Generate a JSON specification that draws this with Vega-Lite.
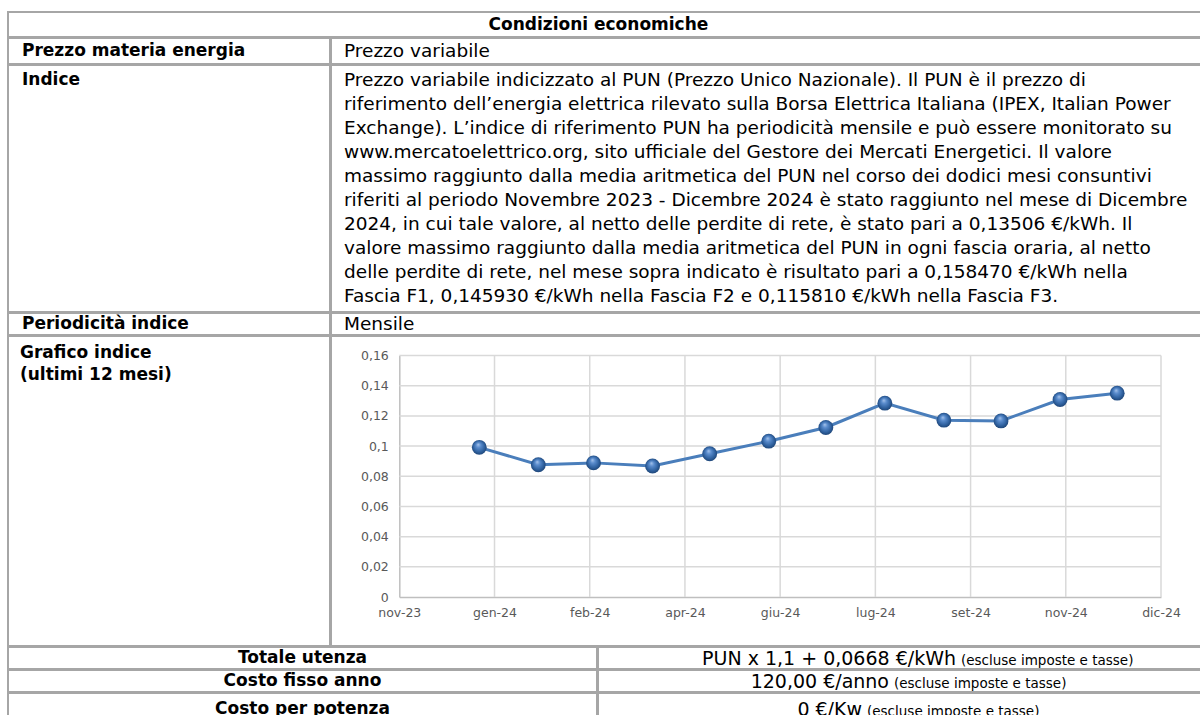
{
  "$schema": "https://vega.github.io/schema/vega-lite/v6.json",
  "background": "white",
  "padding": {"left": 7, "top": 11, "right": -39, "bottom": -6},
  "spacing": -2,
  "config": {
    "font": "DejaVu Sans",
    "view": {"stroke": "#a6a6a6", "strokeWidth": 2},
    "text": {"fontSize": 18.5, "color": "#000000", "baseline": "middle"},
    "axis": {
      "title": null, "grid": false, "ticks": false, "domain": true,
      "domainColor": "#bfbfbf", "domainWidth": 1.5,
      "labelColor": "#595959", "labelFontSize": 12.5,
      "labelFlush": false, "labelOverlap": false
    }
  },
  "vconcat": [
    {
      "width": 1230, "height": 25,
      "data": {"values": [{"testo": "Condizioni economiche"}]},
      "mark": {"type": "text", "fontWeight": "bold", "fontSize": 17},
      "encoding": {
        "text": {"field": "testo"},
        "x": {"datum": 0.48, "type": "quantitative", "scale": {"domain": [0, 1], "nice": false, "zero": false}, "axis": null}
      }
    },
    {
      "spacing": -2,
      "hconcat": [
        {
          "width": 322, "height": 26,
          "data": {"values": [{"testo": "Prezzo materia energia"}]},
          "mark": {"type": "text", "align": "left", "fontWeight": "bold", "fontSize": 17, "dx": 14},
          "encoding": {
            "text": {"field": "testo"},
            "x": {"datum": 0, "type": "quantitative", "scale": {"domain": [0, 1], "nice": false, "zero": false}, "axis": null}
          }
        },
        {
          "width": 908, "height": 26,
          "data": {"values": [{"testo": "Prezzo variabile"}]},
          "mark": {"type": "text", "align": "left", "dx": 13},
          "encoding": {
            "text": {"field": "testo"},
            "x": {"datum": 0, "type": "quantitative", "scale": {"domain": [0, 1], "nice": false, "zero": false}, "axis": null}
          }
        }
      ]
    },
    {
      "spacing": -2,
      "hconcat": [
        {
          "width": 322, "height": 247,
          "data": {"values": [{"riga": 1, "testo": "Indice"}]},
          "mark": {"type": "text", "align": "left", "fontWeight": "bold", "fontSize": 17, "dx": 14},
          "encoding": {
            "text": {"field": "testo"},
            "x": {"datum": 0, "type": "quantitative", "scale": {"domain": [0, 1], "nice": false, "zero": false}, "axis": null},
            "y": {"field": "riga", "type": "quantitative", "scale": {"domain": [0.375, 10.667], "reverse": true, "nice": false, "zero": false}, "axis": null}
          }
        },
        {
          "width": 908, "height": 247,
          "data": {"values": [
            {"riga": 1, "testo": "Prezzo variabile indicizzato al PUN (Prezzo Unico Nazionale). Il PUN è il prezzo di"},
            {"riga": 2, "testo": "riferimento dell’energia elettrica rilevato sulla Borsa Elettrica Italiana (IPEX, Italian Power"},
            {"riga": 3, "testo": "Exchange). L’indice di riferimento PUN ha periodicità mensile e può essere monitorato su"},
            {"riga": 4, "testo": "www.mercatoelettrico.org, sito ufficiale del Gestore dei Mercati Energetici. Il valore"},
            {"riga": 5, "testo": "massimo raggiunto dalla media aritmetica del PUN nel corso dei dodici mesi consuntivi"},
            {"riga": 6, "testo": "riferiti al periodo Novembre 2023 - Dicembre 2024 è stato raggiunto nel mese di Dicembre"},
            {"riga": 7, "testo": "2024, in cui tale valore, al netto delle perdite di rete, è stato pari a 0,13506 €/kWh. Il"},
            {"riga": 8, "testo": "valore massimo raggiunto dalla media aritmetica del PUN in ogni fascia oraria, al netto"},
            {"riga": 9, "testo": "delle perdite di rete, nel mese sopra indicato è risultato pari a 0,158470 €/kWh nella"},
            {"riga": 10, "testo": "Fascia F1, 0,145930 €/kWh nella Fascia F2 e 0,115810 €/kWh nella Fascia F3."}
          ]},
          "mark": {"type": "text", "align": "left", "dx": 13},
          "encoding": {
            "text": {"field": "testo"},
            "x": {"datum": 0, "type": "quantitative", "scale": {"domain": [0, 1], "nice": false, "zero": false}, "axis": null},
            "y": {"field": "riga", "type": "quantitative", "scale": {"domain": [0.375, 10.667], "reverse": true, "nice": false, "zero": false}, "axis": null}
          }
        }
      ]
    },
    {
      "spacing": -2,
      "hconcat": [
        {
          "width": 322, "height": 22,
          "data": {"values": [{"testo": "Periodicità indice"}]},
          "mark": {"type": "text", "align": "left", "fontWeight": "bold", "fontSize": 17, "dx": 14},
          "encoding": {
            "text": {"field": "testo"},
            "x": {"datum": 0, "type": "quantitative", "scale": {"domain": [0, 1], "nice": false, "zero": false}, "axis": null}
          }
        },
        {
          "width": 908, "height": 22,
          "data": {"values": [{"testo": "Mensile"}]},
          "mark": {"type": "text", "align": "left", "dx": 13},
          "encoding": {
            "text": {"field": "testo"},
            "x": {"datum": 0, "type": "quantitative", "scale": {"domain": [0, 1], "nice": false, "zero": false}, "axis": null}
          }
        }
      ]
    },
    {
      "spacing": -2,
      "hconcat": [
        {
          "width": 322, "height": 310,
          "data": {"values": [{"riga": 1, "testo": "Grafico indice"}, {"riga": 2, "testo": "(ultimi 12 mesi)"}]},
          "mark": {"type": "text", "align": "left", "fontWeight": "bold", "fontSize": 17, "dx": 12},
          "encoding": {
            "text": {"field": "testo"},
            "x": {"datum": 0, "type": "quantitative", "scale": {"domain": [0, 1], "nice": false, "zero": false}, "axis": null},
            "y": {"field": "riga", "type": "quantitative", "scale": {"domain": [0.2273, 14.318], "reverse": true, "nice": false, "zero": false}, "axis": null}
          }
        },
        {
          "width": 908, "height": 310,
          "data": {"values": [
            {"mese": "2024-01-01", "pun": 0.09916},
            {"mese": "2024-02-01", "pun": 0.08763},
            {"mese": "2024-03-01", "pun": 0.08886},
            {"mese": "2024-04-01", "pun": 0.08680},
            {"mese": "2024-05-01", "pun": 0.09488},
            {"mese": "2024-06-01", "pun": 0.10323},
            {"mese": "2024-07-01", "pun": 0.11232},
            {"mese": "2024-08-01", "pun": 0.12843},
            {"mese": "2024-09-01", "pun": 0.11713},
            {"mese": "2024-10-01", "pun": 0.11665},
            {"mese": "2024-11-01", "pun": 0.13085},
            {"mese": "2024-12-01", "pun": 0.13506}
          ]},
          "layer": [
            {
              "data": {"values": [{"v": 0.02}, {"v": 0.04}, {"v": 0.06}, {"v": 0.08}, {"v": 0.1}, {"v": 0.12}, {"v": 0.14}, {"v": 0.16}]},
              "mark": {"type": "rule", "color": "#d9d9d9", "strokeWidth": 1.5},
              "encoding": {
                "y": {
                  "field": "v", "type": "quantitative",
                  "scale": {"domain": [0, 0.16], "range": [261, 19.5], "nice": false, "zero": false},
                  "axis": {"orient": "left", "offset": -68.3, "labelPadding": 11, "labelOverlap": false, "tickCount": 40, "values": [0, 0.02, 0.04, 0.06, 0.08, 0.1, 0.12, 0.14, 0.16], "labelExpr": "replace(format(datum.value, '.2~f'), '.', ',')"}
                },
                "x": {
                  "datum": {"year": 2023, "month": 11, "date": 20, "utc": true}, "type": "temporal",
                  "scale": {"type": "utc", "domain": [{"year": 2023, "month": 11, "date": 20, "utc": true}, {"year": 2024, "month": 12, "date": 24, "utc": true}], "range": [68.3, 830]},
                  "axis": {
                    "orient": "bottom", "offset": -49, "labelPadding": 9, "labelOverlap": false, "tickCount": 40,
                    "values": [
                      {"year": 2023, "month": 11, "date": 20, "utc": true},
                      {"year": 2024, "month": 1, "date": 9, "utc": true},
                      {"year": 2024, "month": 2, "date": 28, "utc": true},
                      {"year": 2024, "month": 4, "date": 18, "utc": true},
                      {"year": 2024, "month": 6, "date": 7, "utc": true},
                      {"year": 2024, "month": 7, "date": 27, "utc": true},
                      {"year": 2024, "month": 9, "date": 15, "utc": true},
                      {"year": 2024, "month": 11, "date": 4, "utc": true},
                      {"year": 2024, "month": 12, "date": 24, "utc": true}
                    ],
                    "labelExpr": "['gen','feb','mar','apr','mag','giu','lug','ago','set','ott','nov','dic'][utcmonth(datum.value)] + '-' + utcFormat(datum.value, '%y')"
                  }
                },
                "x2": {"datum": {"year": 2024, "month": 12, "date": 24, "utc": true}}
              }
            },
            {
              "data": {"values": [{"d": "2024-01-09"}, {"d": "2024-02-28"}, {"d": "2024-04-18"}, {"d": "2024-06-07"}, {"d": "2024-07-27"}, {"d": "2024-09-15"}, {"d": "2024-11-04"}, {"d": "2024-12-24"}]},
              "mark": {"type": "rule", "color": "#d9d9d9", "strokeWidth": 1.5},
              "encoding": {
                "x": {"field": "d", "type": "temporal"},
                "y": {"datum": 0, "type": "quantitative"},
                "y2": {"datum": 0.16}
              }
            },
            {
              "mark": {"type": "line", "color": "#4a7ebb", "strokeWidth": 3},
              "encoding": {
                "x": {"field": "mese", "type": "temporal"},
                "y": {
                  "field": "pun", "type": "quantitative",
                  "axis": {"orient": "left", "offset": -68.3, "labelPadding": 11, "labelOverlap": false, "tickCount": 40, "values": [0, 0.02, 0.04, 0.06, 0.08, 0.1, 0.12, 0.14, 0.16], "labelExpr": "replace(format(datum.value, '.2~f'), '.', ',')"}
                }
              }
            },
            {
              "mark": {
                "type": "point", "shape": "circle", "filled": true, "size": 220, "opacity": 1, "strokeWidth": 0,
                "fill": {
                  "gradient": "radial", "x1": 0.42, "y1": 0.3, "r1": 0, "x2": 0.5, "y2": 0.5, "r2": 0.55,
                  "stops": [
                    {"offset": 0, "color": "#a9c6ec"},
                    {"offset": 0.3, "color": "#5a8ccd"},
                    {"offset": 0.7, "color": "#2f619f"},
                    {"offset": 1, "color": "#1b3f6e"}
                  ]
                }
              },
              "encoding": {
                "x": {"field": "mese", "type": "temporal"},
                "y": {
                  "field": "pun", "type": "quantitative",
                  "axis": {"orient": "left", "offset": -68.3, "labelPadding": 11, "labelOverlap": false, "tickCount": 40, "values": [0, 0.02, 0.04, 0.06, 0.08, 0.1, 0.12, 0.14, 0.16], "labelExpr": "replace(format(datum.value, '.2~f'), '.', ',')"}
                }
              }
            }
          ]
        }
      ]
    },
    {
      "spacing": -2,
      "hconcat": [
        {
          "width": 589, "height": 22,
          "data": {"values": [{"voce": "Totale utenza"}]},
          "mark": {"type": "text", "fontWeight": "bold", "fontSize": 17},
          "encoding": {
            "text": {"field": "voce"},
            "x": {"datum": 0.5, "type": "quantitative", "scale": {"domain": [0, 1], "nice": false, "zero": false}, "axis": null}
          }
        },
        {
          "width": 641, "height": 22,
          "data": {"values": [{"valore": "PUN x 1,1 + 0,0668 €/kWh", "nota": "(escluse imposte e tasse)"}]},
          "layer": [
            {
              "mark": {"type": "text", "align": "right", "baseline": "alphabetic", "dy": 7, "dx": -2, "fontSize": 19},
              "encoding": {
                "text": {"field": "valore"},
                "x": {"datum": 0.5616, "type": "quantitative", "scale": {"domain": [0, 1], "nice": false, "zero": false}, "axis": null}
              }
            },
            {
              "mark": {"type": "text", "align": "left", "baseline": "alphabetic", "dy": 7, "dx": 3, "fontSize": 13.5},
              "encoding": {
                "text": {"field": "nota"},
                "x": {"datum": 0.5616, "type": "quantitative", "scale": {"domain": [0, 1], "nice": false, "zero": false}, "axis": null}
              }
            }
          ]
        }
      ]
    },
    {
      "spacing": -2,
      "hconcat": [
        {
          "width": 589, "height": 22,
          "data": {"values": [{"voce": "Costo fisso anno"}]},
          "mark": {"type": "text", "fontWeight": "bold", "fontSize": 17},
          "encoding": {
            "text": {"field": "voce"},
            "x": {"datum": 0.5, "type": "quantitative", "scale": {"domain": [0, 1], "nice": false, "zero": false}, "axis": null}
          }
        },
        {
          "width": 641, "height": 22,
          "data": {"values": [{"valore": "120,00 €/anno", "nota": "(escluse imposte e tasse)"}]},
          "layer": [
            {
              "mark": {"type": "text", "align": "right", "baseline": "alphabetic", "dy": 7, "dx": -2, "fontSize": 19},
              "encoding": {
                "text": {"field": "valore"},
                "x": {"datum": 0.4571, "type": "quantitative", "scale": {"domain": [0, 1], "nice": false, "zero": false}, "axis": null}
              }
            },
            {
              "mark": {"type": "text", "align": "left", "baseline": "alphabetic", "dy": 7, "dx": 3, "fontSize": 13.5},
              "encoding": {
                "text": {"field": "nota"},
                "x": {"datum": 0.4571, "type": "quantitative", "scale": {"domain": [0, 1], "nice": false, "zero": false}, "axis": null}
              }
            }
          ]
        }
      ]
    },
    {
      "spacing": -2,
      "hconcat": [
        {
          "width": 589, "height": 34,
          "data": {"values": [{"voce": "Costo per potenza"}]},
          "mark": {"type": "text", "fontWeight": "bold", "fontSize": 17, "baseline": "top", "dy": 8},
          "encoding": {
            "text": {"field": "voce"},
            "x": {"datum": 0.5, "type": "quantitative", "scale": {"domain": [0, 1], "nice": false, "zero": false}, "axis": null},
            "y": {"datum": 1, "type": "quantitative", "scale": {"domain": [0, 1], "nice": false, "zero": false}, "axis": null}
          }
        },
        {
          "width": 641, "height": 34,
          "data": {"values": [{"valore": "0 €/Kw", "nota": "(escluse imposte e tasse)"}]},
          "layer": [
            {
              "mark": {"type": "text", "align": "right", "baseline": "alphabetic", "dy": 23, "dx": -2, "fontSize": 19},
              "encoding": {
                "text": {"field": "valore"},
                "x": {"datum": 0.415, "type": "quantitative", "scale": {"domain": [0, 1], "nice": false, "zero": false}, "axis": null},
                "y": {"datum": 1, "type": "quantitative", "scale": {"domain": [0, 1], "nice": false, "zero": false}, "axis": null}
              }
            },
            {
              "mark": {"type": "text", "align": "left", "baseline": "alphabetic", "dy": 23, "dx": 3, "fontSize": 13.5},
              "encoding": {
                "text": {"field": "nota"},
                "x": {"datum": 0.415, "type": "quantitative", "scale": {"domain": [0, 1], "nice": false, "zero": false}, "axis": null},
                "y": {"datum": 1, "type": "quantitative", "scale": {"domain": [0, 1], "nice": false, "zero": false}, "axis": null}
              }
            }
          ]
        }
      ]
    }
  ]
}
